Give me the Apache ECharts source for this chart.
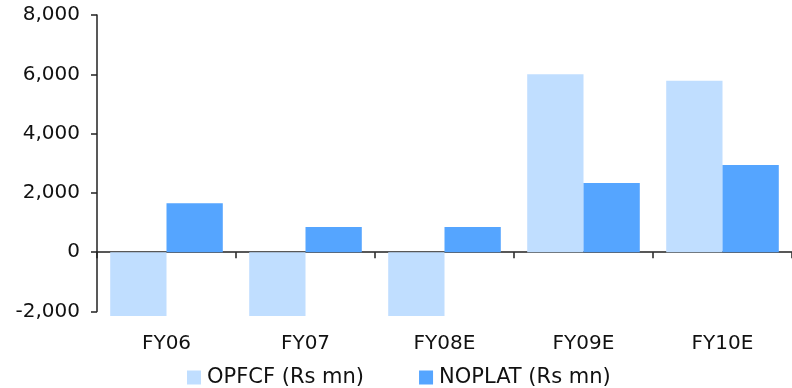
<!DOCTYPE html>
<html>
<head>
<meta charset="utf-8">
<script src="https://cdn.jsdelivr.net/npm/echarts@6/dist/echarts.min.js"></script>
<style>
  html, body { margin: 0; padding: 0; background: #fff; }
  #chart { width: 792px; height: 388px; }
</style>
</head>
<body>
<div id="chart"></div>
<script>
// Fiscal years on the category axis
var categories = ['FY06', 'FY07', 'FY08E', 'FY09E', 'FY10E'];
// Operating free cash flow, Rs mn
var opfcf = [-2150, -2150, -2150, 6000, 5780];
// Net operating profit less adjusted taxes, Rs mn
var noplat = [1650, 850, 850, 2330, 2940];
// Value axis ticks
var yMin = -2000, yMax = 8000, yStep = 2000;

var FONT = 'DejaVu Sans';
var AXIS = '#222';

var chart = echarts.init(document.getElementById('chart'), null, { renderer: 'canvas' });
chart.setOption({
  animation: false,
  textStyle: { fontFamily: FONT },
  grid: { left: 97, top: 15, width: 697, height: 296.5, containLabel: false },
  legend: {
    left: 182, top: 362,
    itemWidth: 14, itemHeight: 14, itemGap: 55,
    icon: 'rect',
    textStyle: { fontFamily: FONT, fontSize: 21, color: '#111', padding: [0, 0, 0, 1] },
    data: ['OPFCF (Rs mn)', 'NOPLAT (Rs mn)']
  },
  xAxis: [
    {
      type: 'category', data: categories,
      axisLine: { onZero: true, lineStyle: { color: AXIS, width: 1.5 } },
      axisTick: { show: true, inside: false, length: 6, lineStyle: { color: AXIS, width: 1.5 } },
      axisLabel: { show: false }
    },
    {
      type: 'category', data: categories, position: 'bottom',
      axisLine: { show: false, onZero: false },
      axisTick: { show: false },
      axisLabel: { fontFamily: FONT, fontSize: 20, color: '#111', margin: 22 }
    }
  ],
  yAxis: {
    type: 'value', min: yMin, max: yMax, interval: yStep,
    axisLine: { show: true, lineStyle: { color: AXIS, width: 1.5 } },
    axisTick: { show: true, length: 6, lineStyle: { color: AXIS, width: 1.5 } },
    splitLine: { show: false },
    axisLabel: {
      fontFamily: FONT, fontSize: 20, color: '#111', margin: 17,
      formatter: function (v) { return v.toLocaleString('en-US'); }
    }
  },
  series: [
    {
      name: 'OPFCF (Rs mn)', type: 'bar', xAxisIndex: 0, data: opfcf,
      barGap: '0%', barCategoryGap: '19%', clip: false,
      itemStyle: { color: '#C0DEFF' }
    },
    {
      name: 'NOPLAT (Rs mn)', type: 'bar', xAxisIndex: 0, data: noplat,
      barGap: '0%', barCategoryGap: '19%', clip: false,
      itemStyle: { color: '#55A5FF' }
    }
  ]
});
</script>
</body>
</html>
